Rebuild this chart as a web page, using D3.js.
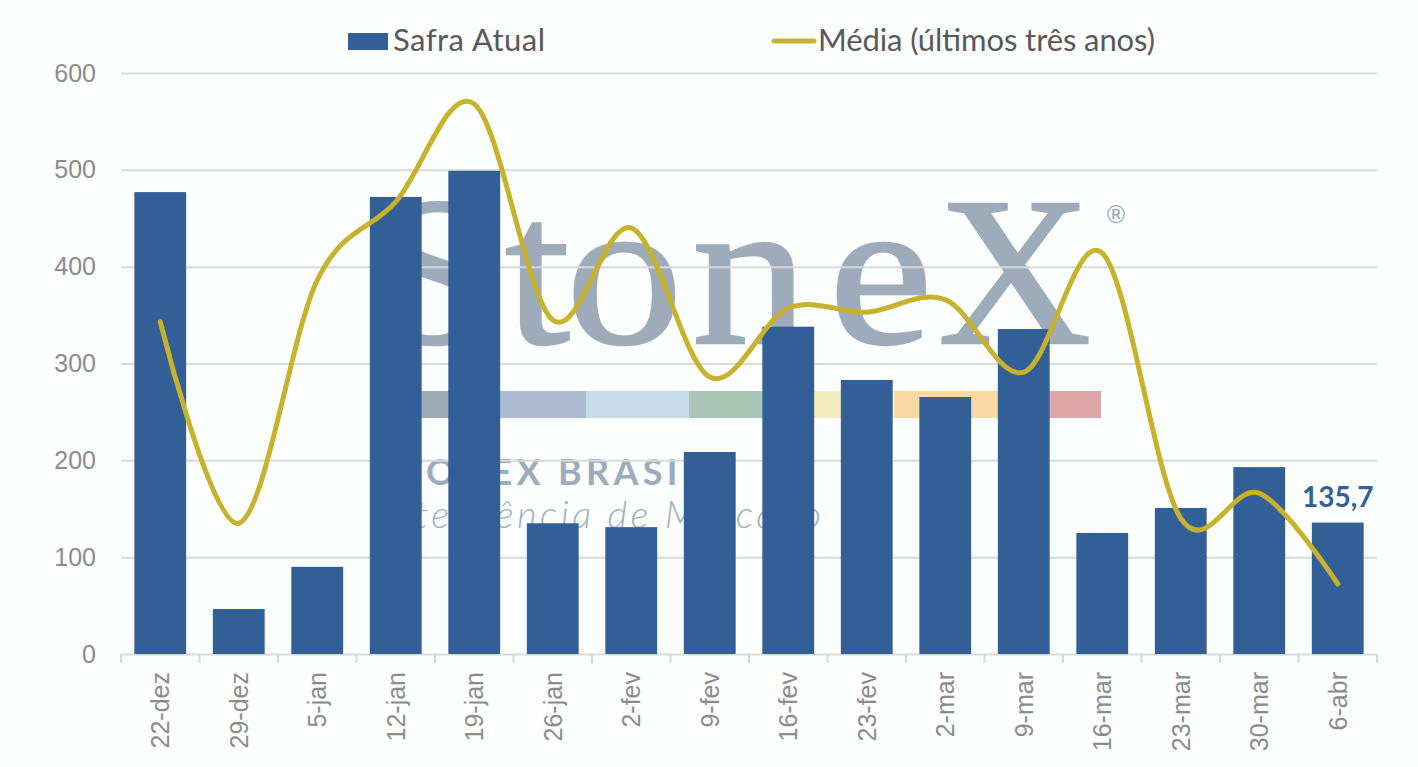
<!DOCTYPE html>
<html>
<head>
<meta charset="utf-8">
<script src="https://cdn.jsdelivr.net/npm/d3@7"></script>
<style>
  body { margin: 0; background: #fcfdfd; }
  svg { display: block; }
</style>
</head>
<body>
<div id="chart"></div>
<script>
const categorias = ["22-dez", "29-dez", "5-jan", "12-jan", "19-jan", "26-jan", "2-fev", "9-fev",
    "16-fev", "23-fev", "2-mar", "9-mar", "16-mar", "23-mar", "30-mar", "6-abr"];
const safraAtual = [477, 46.5, 90, 472, 499, 135, 131, 208.6, 338, 283, 265.4, 335.6, 125, 150.8, 193, 135.7];
const media3Anos = [343, 135, 386, 467, 568, 345, 440, 286, 357, 353, 366, 291, 414, 140, 166, 72.3];
const yTicks = [0, 100, 200, 300, 400, 500, 600];
const legenda = ["Safra Atual", "Média (últimos três anos)"];

const W = 1418, H = 767;
const margin = {top: 73, right: 41, bottom: 113, left: 121};
const width = W - margin.left - margin.right;
const height = H - margin.top - margin.bottom;

const corBarra = "#325f95";
const corLinha = "#c6b22d";

const root = d3.select("#chart")
    .append("svg")
    .attr("width", W)
    .attr("height", H);

// marca d'agua StoneX (fica atras das barras)
const wm = root.append("g").attr("class", "watermark");
wm.selectAll(".letra")
    .data(["S", "t", "o", "n", "e", "X"])
    .enter().append("text")
    .attr("class", "letra")
    .attr("transform", (d, i) => "translate(" + [374, 505, 566, 692, 829, 938][i] + ",343) scale(" + [1.05, 1.1, 1.1, 1.1, 1.1, 1.0][i] + ",1)")
    .style("font-family", "'Liberation Serif', serif")
    .style("font-size", "212px")
    .style("fill", "#9dabba")
    .style("stroke", "#9dabba")
    .style("stroke-width", 2.5)
    .text(d => d);
wm.append("text")
    .attr("x", 1116).attr("y", 223)
    .attr("text-anchor", "middle")
    .style("font-family", "'DejaVu Sans', sans-serif")
    .style("font-size", "24px")
    .style("fill", "#9dabba")
    .text("®");
const faixas = ["#9daab8", "#abbcd3", "#c8ddec", "#a9c5b6", "#f2ecbf", "#f8d9a3", "#dfa6a8"];
wm.selectAll(".faixa")
    .data(faixas)
    .enter().append("rect")
    .attr("class", "faixa")
    .attr("x", (d, i) => 380 + i * 103)
    .attr("y", 391)
    .attr("width", 103)
    .attr("height", 27)
    .style("fill", d => d);
wm.append("text")
    .attr("x", 377).attr("y", 485)
    .style("font-family", "Lato, sans-serif")
    .style("font-weight", 700)
    .style("font-size", "36px")
    .style("letter-spacing", "4.3px")
    .style("fill", "#9dabba")
    .text("STONEX BRASIL");
wm.append("text")
    .attr("x", 380).attr("y", 528)
    .attr("textLength", 441)
    .style("font-family", "Lato, sans-serif")
    .style("font-weight", 300)
    .style("font-style", "italic")
    .style("font-size", "38px")
    .style("fill", "#a3b1c1")
    .text("Inteligência de Mercado");

const svg = root.append("g")
    .attr("transform", "translate(" + margin.left + "," + margin.top + ")");

const x = d3.scaleBand()
    .domain(categorias)
    .range([0, width])
    .paddingInner(0.34)
    .paddingOuter(0.17);

const y = d3.scaleLinear().domain([0, 600]).range([height, 0]);

// grade horizontal + rotulos do eixo y
const yAxis = svg.append("g")
    .call(d3.axisLeft(y).tickValues(yTicks).tickSize(-width).tickPadding(25));
yAxis.select(".domain").remove();
yAxis.selectAll("line").style("stroke", "#d9d9d9").style("stroke-width", 2);
yAxis.selectAll("text")
    .style("font-family", "'Liberation Sans', Arial, sans-serif")
    .style("font-size", "25px")
    .style("fill", "#8c8c8c");

// eixo x
const gap = (x.step() - x.bandwidth()) / 2;
const limites = categorias.map(c => x(c) - gap).concat([width]);
svg.selectAll(".xtick")
    .data(limites)
    .enter().append("line")
    .attr("class", "xtick")
    .attr("x1", d => d).attr("x2", d => d)
    .attr("y1", height).attr("y2", height + 9)
    .style("stroke", "#d9d9d9")
    .style("stroke-width", 2);

svg.selectAll(".xlabel")
    .data(categorias)
    .enter().append("text")
    .attr("class", "xlabel")
    .attr("transform", d => "translate(" + (x(d) + x.bandwidth() / 2 + 9) + "," + (height + 18) + ") rotate(-90)")
    .attr("text-anchor", "end")
    .style("font-family", "'Liberation Sans', Arial, sans-serif")
    .style("font-size", "25px")
    .style("fill", "#8c8c8c")
    .text(d => d);

// barras
svg.selectAll(".bar")
    .data(safraAtual)
    .enter().append("rect")
    .attr("class", "bar")
    .attr("x", (d, i) => x(categorias[i]))
    .attr("width", x.bandwidth())
    .attr("y", d => y(d))
    .attr("height", d => height - y(d))
    .style("fill", corBarra);

// linha da media
const linha = d3.line()
    .x((d, i) => x(categorias[i]) + x.bandwidth() / 2)
    .y(d => y(d))
    .curve(d3.curveCatmullRom.alpha(0));

svg.append("path")
    .datum(media3Anos)
    .attr("d", linha)
    .style("fill", "none")
    .style("stroke", corLinha)
    .style("stroke-width", 5)
    .style("stroke-linecap", "round")
    .style("stroke-linejoin", "round");

// rotulo do ultimo valor
const ult = categorias.length - 1;
svg.append("text")
    .attr("x", x(categorias[ult]) + x.bandwidth() / 2)
    .attr("y", y(safraAtual[ult]) - 16)
    .attr("text-anchor", "middle")
    .style("font-family", "Lato, sans-serif")
    .style("font-weight", 700)
    .style("font-size", "28px")
    .style("fill", corBarra)
    .text(String(safraAtual[ult]).replace(".", ","));

// legenda
const leg = root.append("g");
leg.append("rect")
    .attr("x", 348).attr("y", 33)
    .attr("width", 40).attr("height", 17)
    .style("fill", corBarra);
leg.append("line")
    .attr("x1", 774).attr("x2", 814)
    .attr("y1", 41).attr("y2", 41)
    .style("stroke", corLinha)
    .style("stroke-width", 5)
    .style("stroke-linecap", "round");
leg.selectAll(".legtxt")
    .data(legenda)
    .enter().append("text")
    .attr("class", "legtxt")
    .attr("x", (d, i) => [393, 818][i])
    .attr("y", 51)
    .attr("textLength", (d, i) => [152, 337][i])
    .style("font-family", "Lato, sans-serif")
    .style("font-size", "31px")
    .style("fill", "#595959")
    .text(d => d);
</script>
</body>
</html>
